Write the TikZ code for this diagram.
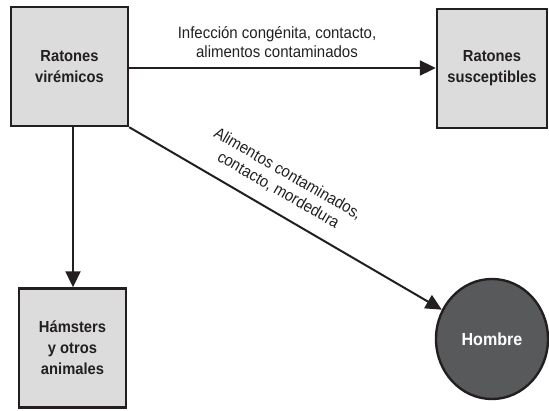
\documentclass[tikz,border=0pt]{standalone}
\usepackage{fontspec}
\setmainfont{Liberation Sans}[FakeStretch=0.92]
\usetikzlibrary{arrows.meta,shapes.geometric}
\definecolor{boxgray}{HTML}{DCDCDD}
\definecolor{hostgray}{HTML}{58595B}
\definecolor{ink}{HTML}{231F20}
\tikzset{
  hostbox/.style={draw=ink, line width=2.4pt, fill=boxgray, inner sep=0pt,
    align=center, font=\fontsize{16}{21}\selectfont\bfseries, text=ink},
  humannode/.style={ellipse, draw=ink, line width=2.4pt, fill=hostgray,
    minimum width=112pt, minimum height=120pt, inner sep=0pt,
    font=\fontsize{17.5}{20}\selectfont\bfseries, text=white},
  route/.style={draw=ink, line width=2pt, -{Triangle[length=16pt, width=15pt]}},
  routelabel/.style={align=center, font=\fontsize{16.3}{19}\selectfont, text=ink}
}
\begin{document}
\begin{tikzpicture}[x=1pt, y=-1pt]
  \useasboundingbox (0,0) rectangle (549,410);
  % reservoirs and hosts
  \node[hostbox, minimum width=117pt, minimum height=119pt] (viremic) at (69.5,66.5)
    {Ratones\\vir\'emicos};
  \node[hostbox, minimum width=110pt, minimum height=119pt] (susceptible) at (492,68.5)
    {Ratones\\susceptibles};
  \node[hostbox, minimum width=107pt, minimum height=119pt] (hamster) at (72.5,348)
    {H\'amsters\\y otros\\animales};
  \node[humannode] (human) at (492,339) {Hombre};
  % transmission routes
  \draw[route] (viremic.east |- 0,68) -- (susceptible.west |- 0,68);
  \draw[route] (viremic.south -| 73,0) -- (hamster.north -| 73,0);
  \draw[route] (viremic.south east) -- (human);
  % route labels
  \node[routelabel] (lblmice) at (277,42)
    {Infecci\'on cong\'enita, contacto,\\alimentos contaminados};
  \node[routelabel, rotate=-30] (lblhuman) at (283,182)
    {Alimentos contaminados,\\contacto, mordedura};
\end{tikzpicture}
\end{document}
